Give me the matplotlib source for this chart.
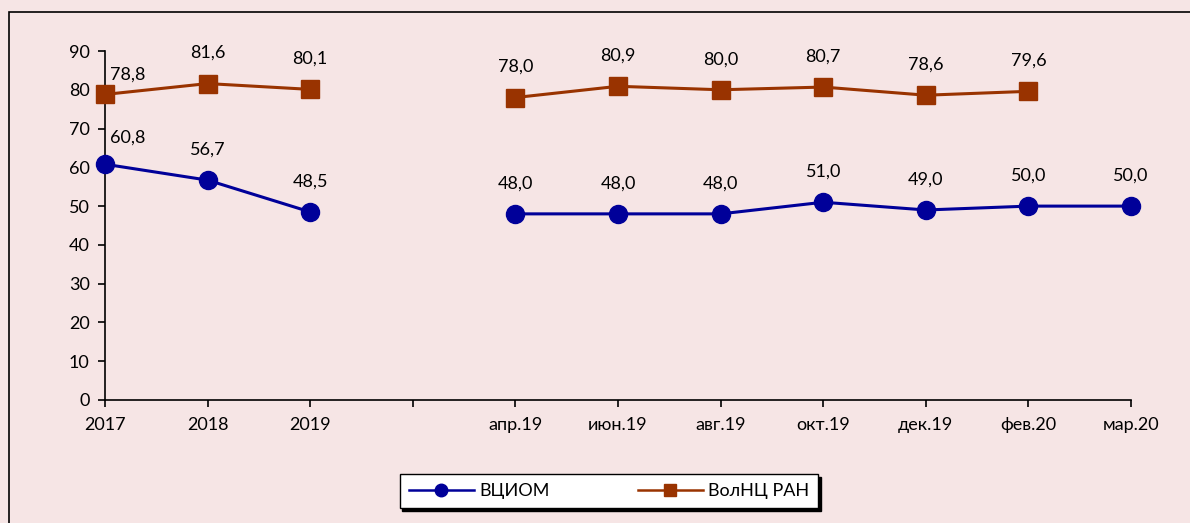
import matplotlib.pyplot as plt
import matplotlib.patches as mpatches
import numpy as np

plt.rcParams['font.family'] = ['Lato', 'DejaVu Sans']

categories = ["2017", "2018", "2019", "", "апр.19", "июн.19", "авг.19",
              "окт.19", "дек.19", "фев.20", "мар.20"]
vciom = [60.8, 56.7, 48.5, np.nan, 48.0, 48.0, 48.0, 51.0, 49.0, 50.0, 50.0]
volnc = [78.8, 81.6, 80.1, np.nan, 78.0, 80.9, 80.0, 80.7, 78.6, 79.6, np.nan]
seriesNames = ["ВЦИОМ", "ВолНЦ РАН"]
seriesColors = ["#000099", "#993300"]
bgColor = "#F6E5E5"

fig = plt.figure(figsize=(11.9, 5.23), dpi=100, facecolor=bgColor)
ax = fig.add_axes([105/1190, 1-400/523, (1131-105)/1190, (400-51)/523])
ax.set_facecolor(bgColor)

# outer frame (cropped on right and bottom)
fig.patches.append(mpatches.Rectangle((9/1190, -0.1), 1.2, 1-12/523+0.1,
                   transform=fig.transFigure, fill=False, edgecolor="black",
                   linewidth=1.2, zorder=0))

x = np.arange(len(categories))
ax.plot(x, vciom, color=seriesColors[0], linewidth=2.2, marker="o",
        markersize=13, label=seriesNames[0], zorder=3, clip_on=False)
ax.plot(x, volnc, color=seriesColors[1], linewidth=2.2, marker="s",
        markersize=13, label=seriesNames[1], zorder=3, clip_on=False)

def labelPoints(values, firstOffset):
    for i, v in enumerate(values):
        if np.isnan(v):
            continue
        off = firstOffset if i == 0 else (0, 22)
        ax.annotate(f"{v:.1f}".replace(".", ","), (x[i], v), xytext=off,
                    textcoords="offset points", ha="center", va="center",
                    fontsize=13, color="black", annotation_clip=False)

labelPoints(vciom, (16, 19))
labelPoints(volnc, (16, 14))

ax.set_xlim(0, len(categories) - 1)
ax.set_ylim(0, 90)
ax.set_yticks(np.arange(0, 91, 10))
ax.set_xticks(x)
ax.set_xticklabels(categories)
ax.spines["top"].set_visible(False)
ax.spines["right"].set_visible(False)
for s in ["left", "bottom"]:
    ax.spines[s].set_linewidth(1.2)
ax.tick_params(axis="both", direction="out", length=5, width=1.2,
               labelsize=13, labelcolor="black")
ax.tick_params(axis="x", pad=7)
ax.tick_params(axis="y", pad=6)

leg = fig.legend(loc="center", bbox_to_anchor=(609/1190, 1-491/523), ncol=2,
                 frameon=True, fancybox=False,
                 shadow={"color": "black", "alpha": 1.0}, fontsize=13,
                 handlelength=3.6, columnspacing=4.9, borderpad=0.5,
                 handletextpad=0.3, borderaxespad=0)
leg.get_frame().set_edgecolor("black")
leg.get_frame().set_linewidth(1.0)
leg.get_frame().set_facecolor("white")
for h in leg.legend_handles:
    h.set_markersize(9)
    h.set_linewidth(1.8)

plt.savefig("out.png", dpi=100, facecolor=bgColor)
